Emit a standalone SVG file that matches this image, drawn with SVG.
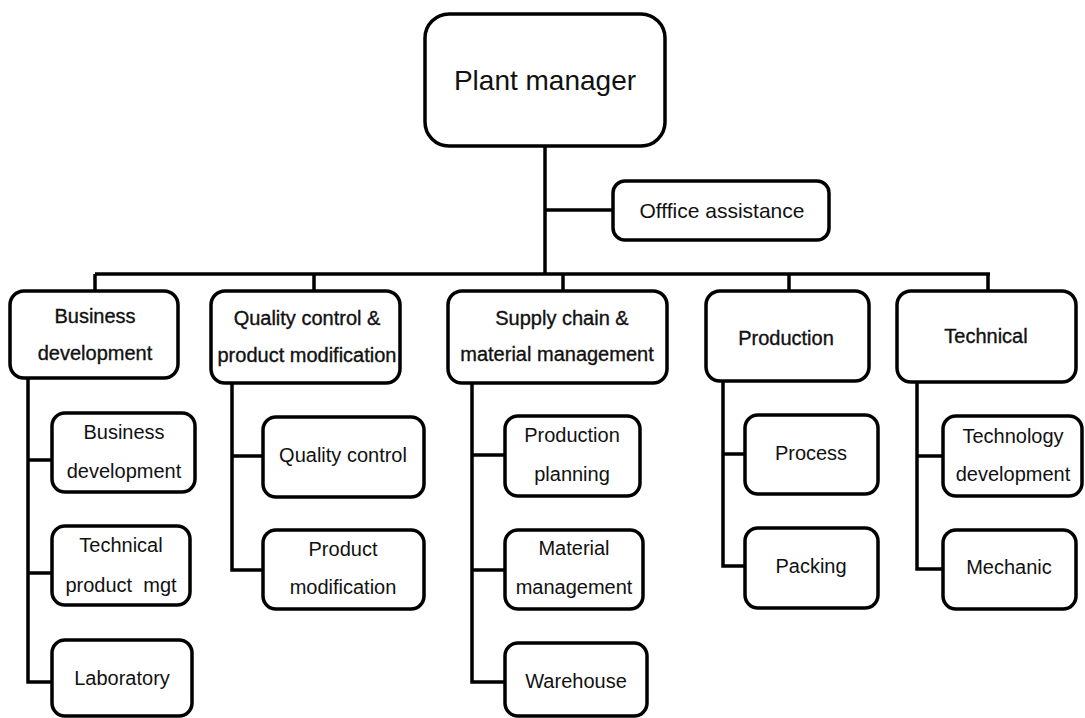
<svg xmlns="http://www.w3.org/2000/svg" width="1085" height="718" viewBox="0 0 1085 718">
  <style>
    .box { fill: #ffffff; stroke: #000000; stroke-width: 3.5; }
    .wire { fill: none; stroke: #000000; stroke-width: 3.5; stroke-linecap: butt; stroke-linejoin: miter; }
    .t { font-family: "Liberation Sans", Arial, sans-serif; font-size: 20px; fill: #111111; text-anchor: middle; dominant-baseline: central; }
    .head { stroke: #111111; stroke-width: 0.35; }
    .top { font-size: 28px; }
    .aside { font-size: 21px; }
  </style>

  <!-- connectors -->
  <g id="connectors" class="wire">
    <path d="M545 146 V274"/>
    <path d="M545 210 H613"/>
    <path d="M95 274 H990"/>
    <path d="M95 274 V291 M314 274 V291 M563 274 V291 M789 274 V291 M988 274 V291"/>
    <!-- business development branch -->
    <path d="M28 378 V682 H52 M28 460 H52 M28 573 H52"/>
    <!-- quality branch -->
    <path d="M232 383 V570 H263 M232 456 H263"/>
    <!-- supply chain branch -->
    <path d="M472 383 V682 H505 M472 455 H505 M472 570 H505"/>
    <!-- production branch -->
    <path d="M723 381 V566 H745 M723 454 H745"/>
    <!-- technical branch -->
    <path d="M917 382 V569 H943 M917 456 H943"/>
  </g>

  <g id="plant-manager">
    <rect class="box" x="425" y="14" width="240" height="132" rx="24"/>
    <text class="t top" x="545" y="80">Plant manager</text>
  </g>

  <g id="office-assistance">
    <rect class="box" x="613" y="181" width="216" height="59" rx="12"/>
    <text class="t aside" x="722" y="210">Offfice assistance</text>
  </g>

  <!-- department heads -->
  <g id="business-development">
    <rect class="box" x="10" y="291" width="168" height="87" rx="14"/>
    <text class="t head" x="95" y="316">Business</text>
    <text class="t head" x="95" y="353">development</text>
  </g>

  <g id="quality-product">
    <rect class="box" x="211" y="291" width="189" height="92" rx="14"/>
    <text class="t head" x="307" y="318">Quality control &amp;</text>
    <text class="t head" x="307" y="355">product modification</text>
  </g>

  <g id="supply-chain">
    <rect class="box" x="448" y="291" width="219" height="92" rx="14"/>
    <text class="t head" x="562" y="318">Supply chain &amp;</text>
    <text class="t head" x="557" y="354">material management</text>
  </g>

  <g id="production">
    <rect class="box" x="706" y="291" width="163" height="90" rx="14"/>
    <text class="t head" x="786" y="338">Production</text>
  </g>

  <g id="technical">
    <rect class="box" x="897" y="291" width="179" height="91" rx="14"/>
    <text class="t head" x="986" y="336">Technical</text>
  </g>

  <!-- sections -->
  <g id="sec-business-development">
    <rect class="box" x="52" y="413" width="143" height="79" rx="13"/>
    <text class="t" x="124" y="432">Business</text>
    <text class="t" x="124" y="471">development</text>
  </g>

  <g id="sec-technical-product">
    <rect class="box" x="52" y="526" width="138" height="79" rx="13"/>
    <text class="t" x="121" y="545">Technical</text>
    <text class="t" x="121" y="585" xml:space="preserve">product  mgt</text>
  </g>

  <g id="sec-laboratory">
    <rect class="box" x="52" y="640" width="140" height="76" rx="13"/>
    <text class="t" x="122" y="678">Laboratory</text>
  </g>

  <g id="sec-quality-control">
    <rect class="box" x="263" y="417" width="161" height="80" rx="13"/>
    <text class="t" x="343" y="455">Quality control</text>
  </g>

  <g id="sec-product-modification">
    <rect class="box" x="263" y="530" width="161" height="79" rx="13"/>
    <text class="t" x="343" y="549">Product</text>
    <text class="t" x="343" y="587">modification</text>
  </g>

  <g id="sec-production-planning">
    <rect class="box" x="505" y="416" width="135" height="80" rx="13"/>
    <text class="t" x="572" y="435">Production</text>
    <text class="t" x="572" y="474">planning</text>
  </g>

  <g id="sec-material-management">
    <rect class="box" x="505" y="530" width="138" height="79" rx="13"/>
    <text class="t" x="574" y="548">Material</text>
    <text class="t" x="574" y="587">management</text>
  </g>

  <g id="sec-warehouse">
    <rect class="box" x="505" y="643" width="142" height="73" rx="13"/>
    <text class="t" x="576" y="681">Warehouse</text>
  </g>

  <g id="sec-process">
    <rect class="box" x="745" y="415" width="133" height="79" rx="13"/>
    <text class="t" x="811" y="453">Process</text>
  </g>

  <g id="sec-packing">
    <rect class="box" x="745" y="528" width="133" height="80" rx="13"/>
    <text class="t" x="811" y="566">Packing</text>
  </g>

  <g id="sec-technology-development">
    <rect class="box" x="943" y="416" width="139" height="80" rx="13"/>
    <text class="t" x="1013" y="436">Technology</text>
    <text class="t" x="1013" y="474">development</text>
  </g>

  <g id="sec-mechanic">
    <rect class="box" x="943" y="530" width="133" height="79" rx="13"/>
    <text class="t" x="1009" y="567">Mechanic</text>
  </g>
</svg>
